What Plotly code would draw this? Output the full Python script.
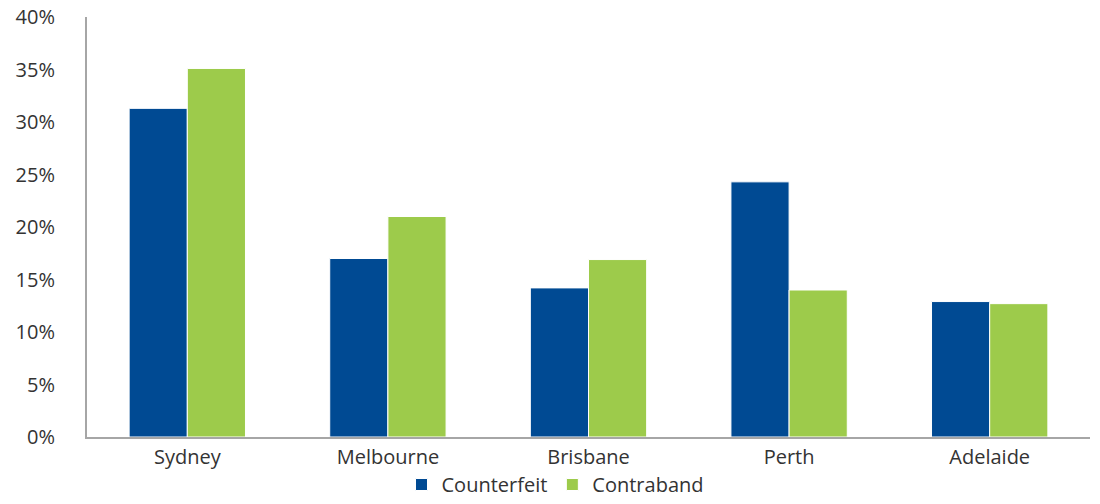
import plotly.graph_objects as go

cities = ["Sydney", "Melbourne", "Brisbane", "Perth", "Adelaide"]
counterfeit = [31.3, 17.0, 14.2, 24.3, 12.9]
contraband = [35.1, 21.0, 16.9, 14.0, 12.7]
y_ticks = [0, 5, 10, 15, 20, 25, 30, 35, 40]
y_tick_labels = [f"{v}%" for v in y_ticks]

fig = go.Figure()
fig.add_trace(go.Bar(name="Counterfeit", x=cities, y=counterfeit,
                     marker=dict(color="#004A93", line=dict(color="white", width=1))))
fig.add_trace(go.Bar(name="Contraband", x=cities, y=contraband,
                     marker=dict(color="#9DCB4B", line=dict(color="white", width=1))))

fig.update_layout(
    width=1100, height=504,
    margin=dict(l=87, r=10, t=17, b=67, autoexpand=False),
    plot_bgcolor="white", paper_bgcolor="white",
    barmode="group", bargap=0.42, bargroupgap=0.0,
    font=dict(family="Open Sans, sans-serif", size=20, color="#333333"),
    showlegend=True,
    legend=dict(orientation="h", xref="container", x=0.505, xanchor="center",
                yref="container", y=-0.01, yanchor="bottom",
                font=dict(size=20), itemwidth=30, traceorder="normal"),
)
fig.update_yaxes(range=[0, 40], tickvals=y_ticks, ticktext=y_tick_labels,
                 showgrid=False, showline=True, linecolor="#A6A6A6", linewidth=2,
                 ticks="outside", ticklen=26, tickcolor="rgba(0,0,0,0)",
                 zeroline=False, automargin=False, ticklabeloverflow="allow")
fig.update_xaxes(showline=True, linecolor="#A6A6A6", linewidth=2,
                 ticks="outside", ticklen=1, tickcolor="rgba(0,0,0,0)",
                 showgrid=False, automargin=False)

fig.write_html("out.html", config={"displayModeBar": False},
               post_script="document.body.style.margin='0';document.body.style.overflow='hidden';")
